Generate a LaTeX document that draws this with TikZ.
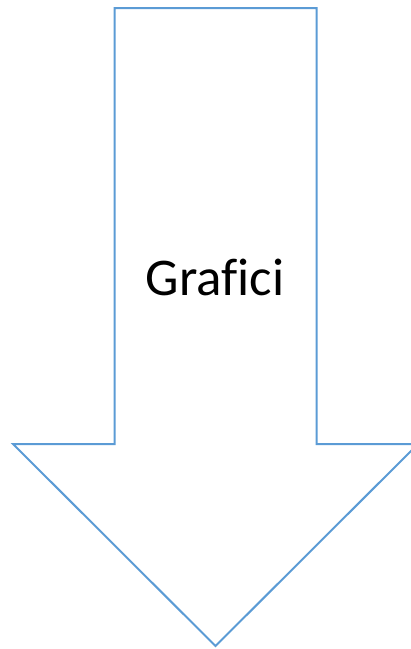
\documentclass[tikz,border=0pt]{standalone}
\usepackage{fontspec}
\setmainfont[Ligatures=NoCommon]{Carlito}
\usepackage{tikz}
\definecolor{mblue}{RGB}{91, 155, 213}
\tikzset{bigarrow/.style = {draw=mblue, line width=2pt, line join=miter}}

\begin{document}
\begin{tikzpicture}[x=1pt, y=-1pt]
    \useasboundingbox (0, 0) rectangle (411, 649);
    \draw [bigarrow] (114.5, 8) -- (316.5, 8) -- (316.5, 444) -- (418, 444)
        -- (215.5, 646) -- (13, 444) -- (114.5, 444) -- cycle; % shaft and head
    \node (label) at (215, 277) {\fontsize{53}{60}\selectfont Graf\kern0pt ici};
  \end{tikzpicture}
\end{document}
